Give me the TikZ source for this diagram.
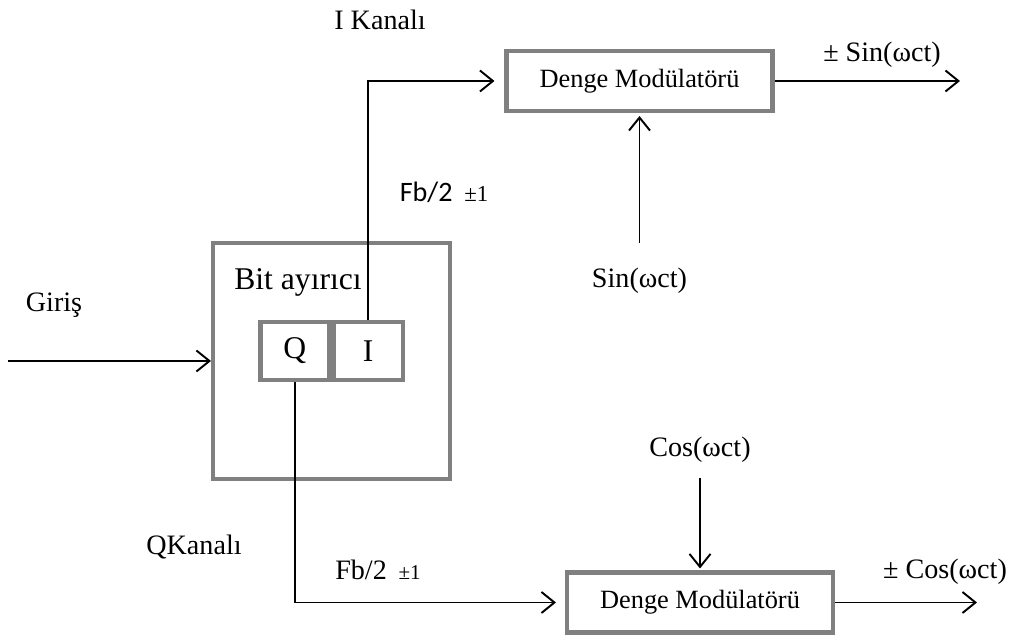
\documentclass[tikz,border=0pt]{standalone}
\usepackage{fontspec}
\setmainfont{Liberation Serif}
\newfontfamily\calfont{Carlito}
\usepackage{xcolor}
\usetikzlibrary{positioning, arrows.meta}
\definecolor{boxgray}{HTML}{808080}

\begin{document}
\begin{tikzpicture}[
    block/.style={rectangle, draw=boxgray, line width=2.3pt, minimum width=5.32cm, minimum height=1.2cm, align=center, font=\fontsize{15}{18}\selectfont},
    splitbox/.style={rectangle, draw=boxgray, line width=2.3pt, minimum width=4.74cm, minimum height=4.72cm},
    bitbox/.style={rectangle, draw=boxgray, line width=2.5pt, minimum width=1.38cm, minimum height=1.16cm, font=\fontsize{18}{21}\selectfont},
    signal/.style={line width=1.1pt, -{Straight Barb[length=0.26cm, width=0.42cm, line width=1.1pt]}},
    lbl/.style={inner sep=0pt, font=\fontsize{16}{19}\selectfont}
]
    \useasboundingbox (0,0) rectangle (20.24,12.88);

    % Blocks
    \node[splitbox] (Splitter) at (6.63,5.66) {};
    \node[bitbox, anchor=east] (QBit) at ([yshift=0.2cm]Splitter.center) {Q};
    \node[bitbox] (IBit) [right=0pt of QBit] {I};
    \node[block] (ModI) at (12.79,11.26) {Denge Modülatörü};
    \node[block] (ModQ) at (14.0,0.83)  {Denge Modülatörü};

    % Free ends
    \coordinate (In)    at (0.16,5.66);
    \coordinate (OutI)  at (19.2,11.26);
    \coordinate (OutQ)  at (19.54,0.83);
    \coordinate (SinIn) at (12.79,8.02);
    \coordinate (CosIn) at (14.0,3.32);

    % Signals
    \draw[signal] (In) -- (Splitter.west);
    \draw[signal, shorten >=0.2cm] (IBit.north) |- (ModI.west);
    \draw[signal, shorten >=0.18cm] (QBit.south) |- (ModQ.west);
    \draw[signal] (ModI.east) -- (OutI);
    \draw[signal] (ModQ.east) -- (OutQ);
    \draw[signal, shorten >=0.06cm] (SinIn) -- (ModI.south);
    \draw[signal, shorten >=0.04cm] (CosIn) -- (ModQ.north);

    % Labels
    \node[lbl, font=\fontsize{18}{21}\selectfont] (BitLbl) [below right=0.55cm and 0.46cm of Splitter.north west] {Bit ayırıcı};
    \node[lbl] (GirisLbl) at (1.08,6.78) {Giriş};
    \node[lbl] (IKanal) at (7.6,12.48) {I Kanalı};
    \node[lbl] (QKanal) at (3.88,1.94) {QKanalı};
    \node[lbl] (FbI) at (8.88,9.04) {{\calfont Fb/2}\, {\fontsize{13}{15}\selectfont ±1}};
    \node[lbl] (FbQ) at (7.56,1.48) {Fb/2\, {\fontsize{12}{14}\selectfont ±1}};
    \node[lbl] (SinLbl) [below=0.5cm of SinIn] {Sin(ωct)};
    \node[lbl] (CosLbl) [above=0.3cm of CosIn] {Cos(ωct)};
    \node[lbl] (SinOut) at (17.64,11.78) {± Sin(ωct)};
    \node[lbl] (CosOut) at (18.9,1.44) {± Cos(ωct)};

\end{tikzpicture}
\end{document}
